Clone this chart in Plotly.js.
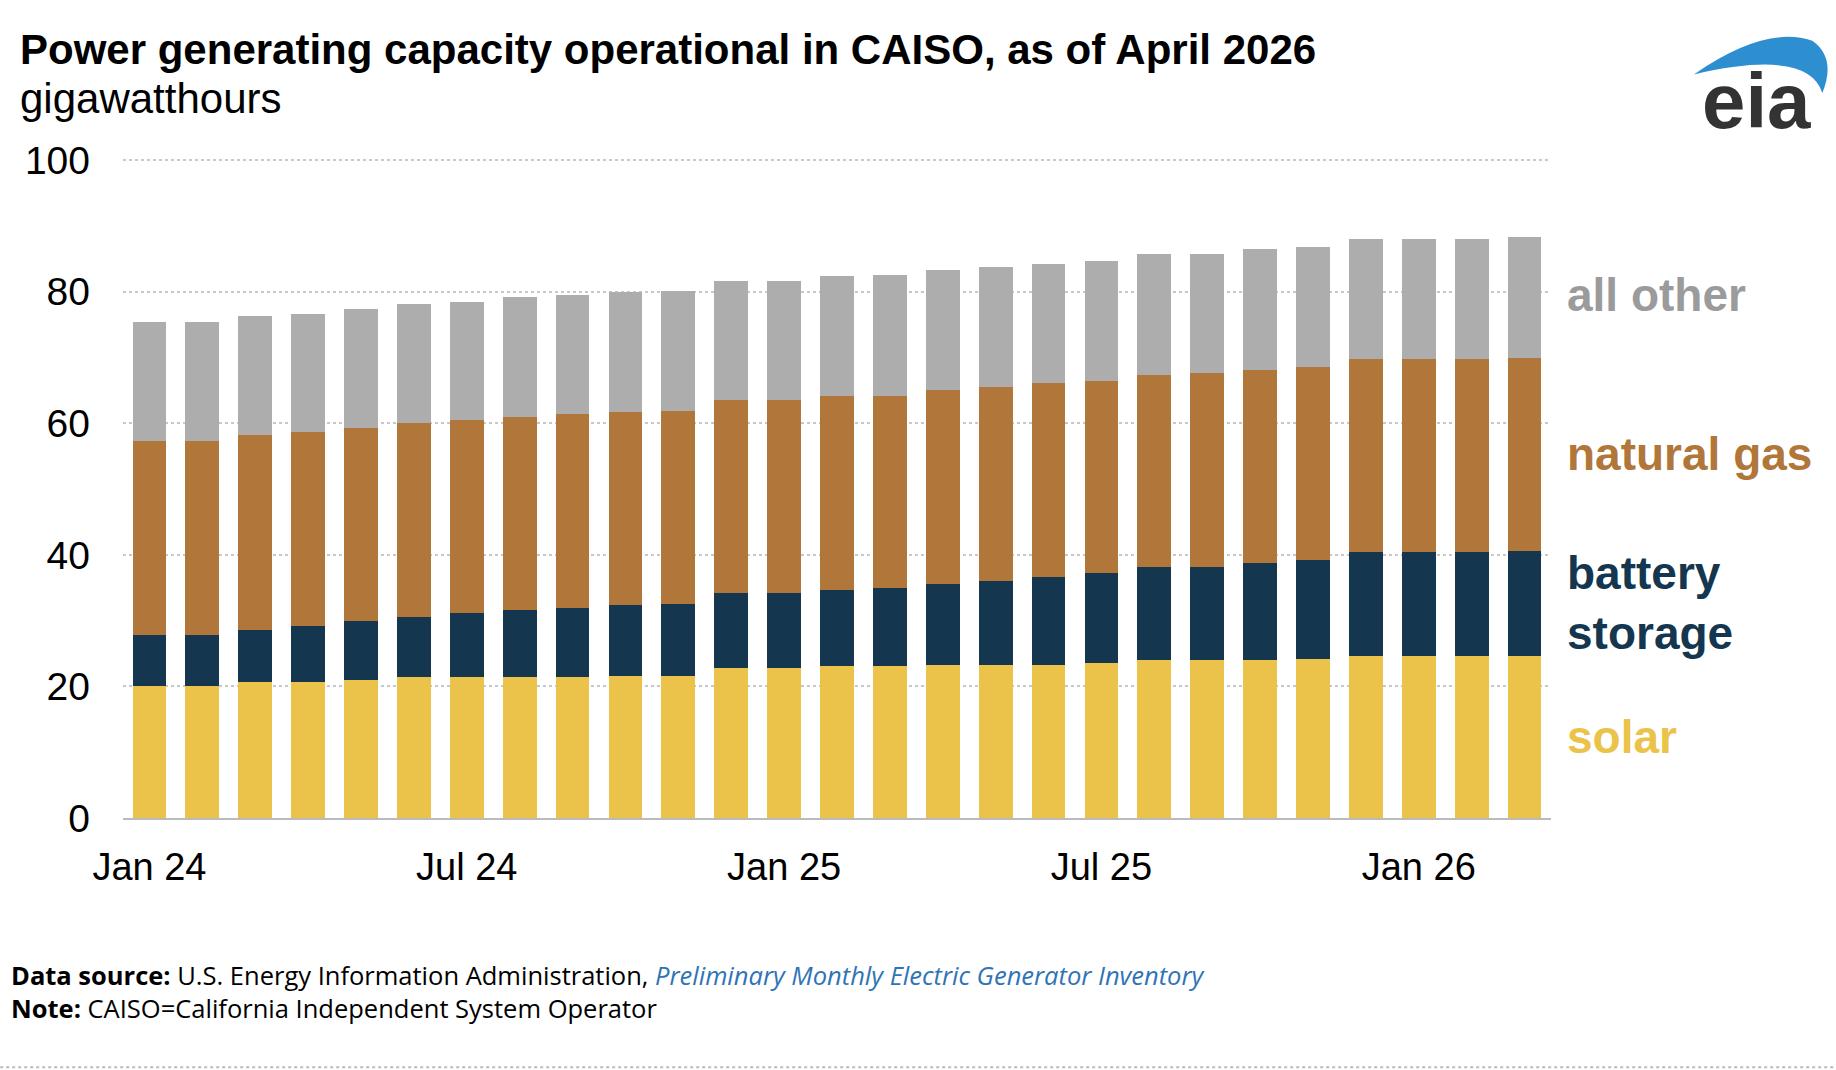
<!DOCTYPE html>
<html>
<head>
<meta charset="utf-8">
<script src="https://cdn.plot.ly/plotly-3.0.1.min.js"></script>
<style>
  body { margin: 0; background: #fff; }
  #chart { width: 1836px; height: 1070px; }
</style>
</head>
<body>
<div id="chart"></div>
<script>
// valores (GW), Jan 2024 .. Mar 2026
const months = ['Jan 24','Feb 24','Mar 24','Apr 24','May 24','Jun 24','Jul 24','Aug 24','Sep 24','Oct 24','Nov 24','Dec 24',
                'Jan 25','Feb 25','Mar 25','Apr 25','May 25','Jun 25','Jul 25','Aug 25','Sep 25','Oct 25','Nov 25','Dec 25',
                'Jan 26','Feb 26','Mar 26'];
const solar = [20.1,20.1,20.7,20.7,21.0,21.4,21.4,21.4,21.4,21.6,21.6,22.8,22.8,23.1,23.1,23.3,23.3,23.3,23.5,24.0,24.0,24.0,24.2,24.7,24.7,24.7,24.7];
const battery = [7.8,7.8,7.9,8.5,8.9,9.2,9.7,10.3,10.6,10.8,11.0,11.4,11.4,11.6,11.8,12.3,12.8,13.4,13.7,14.1,14.1,14.8,15.1,15.7,15.7,15.7,15.9];
const gas = [29.4,29.4,29.6,29.5,29.4,29.4,29.4,29.3,29.4,29.3,29.3,29.3,29.3,29.4,29.2,29.4,29.4,29.5,29.2,29.3,29.5,29.3,29.2,29.4,29.4,29.4,29.3];
const other = [18.1,18.1,18.1,18.0,18.1,18.1,18.0,18.2,18.1,18.2,18.2,18.2,18.2,18.3,18.5,18.3,18.3,18.0,18.3,18.4,18.2,18.4,18.3,18.3,18.3,18.3,18.4];
const tickLabels = ['Jan 24','Jul 24','Jan 25','Jul 25','Jan 26'];

const cores = { solar: '#ecc34a', battery: '#15364f', gas: '#b1763a', other: '#adadad' };

function serie(y, cor) {
    return { type: 'bar', x: months, y: y, marker: { color: cor }, hoverinfo: 'y' };
}
const data = [serie(solar, cores.solar), serie(battery, cores.battery), serie(gas, cores.gas), serie(other, cores.other)];

const fonte = 'Liberation Sans, Arial, sans-serif';
function rotulo(texto, y, cor) {
    return { xref: 'paper', yref: 'y', x: 1.01, y: y, xanchor: 'left', yanchor: 'middle', showarrow: false, align: 'left',
             text: '<b>' + texto + '</b>', font: { family: fonte, size: 46, color: cor } };
}
function texto(t, x, y, size, fam, anchor) {
    return { xref: 'paper', yref: 'paper', x: x, y: y, xanchor: anchor || 'left', yanchor: 'middle', showarrow: false,
             text: t, font: { size: size, family: fam || fonte } };
}

const layout = {
    width: 1836, height: 1070,
    barmode: 'stack', bargap: 0.36,
    showlegend: false,
    paper_bgcolor: '#fff', plot_bgcolor: '#fff',
    margin: { l: 123, r: 285, t: 157, b: 252 },
    font: { family: fonte, color: '#000' },
    xaxis: {
        type: 'category', tickmode: 'array', tickvals: tickLabels, ticktext: tickLabels,
        tickfont: { size: 38 }, ticks: '', showgrid: false, zeroline: false,
        showline: true, linecolor: '#bbb', linewidth: 2, ticklabelstandoff: 14
    },
    yaxis: {
        range: [0, 100.5], tickvals: [0, 20, 40, 60, 80, 100], tickfont: { size: 39 },
        showgrid: true, gridcolor: '#c8c8c8', griddash: 'dot', gridwidth: 2,
        zeroline: false, ticks: '', ticklabelstandoff: 32
    },
    annotations: [
        texto('<b>Power generating capacity operational in CAISO, as of April 2026</b>', -0.0735, 1.163, 42),
        texto('gigawatthours', -0.0735, 1.088, 42),
        rotulo('all other', 79.5, '#9b9b9b'),
        rotulo('natural gas', 55.3, cores.gas),
        rotulo('battery<br>storage', 32.7, cores.battery),
        rotulo('solar', 12.3, cores.solar),
        texto('<b>Data source:</b> U.S. Energy Information Administration, <i><span style="color:#2f74b5">Preliminary Monthly Electric Generator Inventory</span></i>',
              -0.08, -0.237, 25.5, 'Open Sans, sans-serif'),
        texto('<b>Note:</b> CAISO=California Independent System Operator', -0.08, -0.287, 25.5, 'Open Sans, sans-serif'),
        // logo eia
        { xref: 'paper', yref: 'paper', x: 1.1436, y: 1.085, xanchor: 'center', yanchor: 'middle', showarrow: false,
          text: '<b>eia</b>', font: { size: 78, family: fonte, color: '#333' } }
    ],
    shapes: [
        { type: 'path', xref: 'paper', yref: 'paper', layer: 'above',
          path: 'M 1.100 1.125 Q 1.15 1.2 1.183 1.176 Q 1.2 1.15 1.19 1.097 Q 1.18 1.165 1.100 1.125 Z',
          fillcolor: '#2e8fd0', line: { width: 0 } },
        { type: 'line', xref: 'paper', yref: 'paper', x0: -0.086, x1: 1.199, y0: -0.377, y1: -0.377,
          line: { color: '#bbb', width: 2, dash: 'dot' } }
    ]
};

Plotly.newPlot('chart', data, layout, { displayModeBar: false });
</script>
</body>
</html>
